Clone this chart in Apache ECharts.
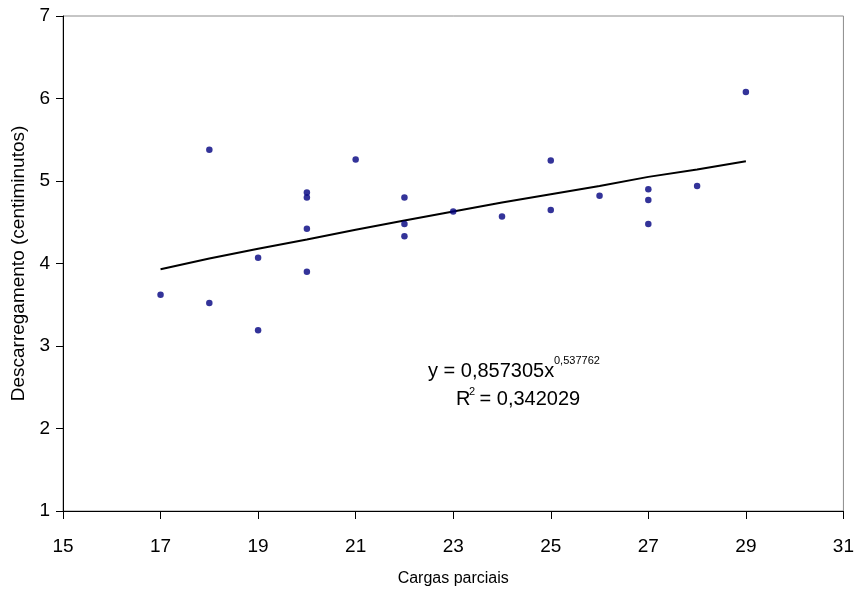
<!DOCTYPE html>
<html>
<head>
<meta charset="utf-8">
<script src="https://cdn.jsdelivr.net/npm/echarts@6/dist/echarts.min.js"></script>
<style>
html,body{margin:0;padding:0;background:#fff;}
#chart{width:857px;height:594px;}
</style>
</head>
<body>
<div id="chart"></div>
<script>
// Observed points
const cargas = [17, 18, 18, 19, 19, 20, 20, 20, 20, 21, 22, 22, 22, 23, 24, 25, 25, 26, 27, 27, 27, 28, 29];
const descarregamento = [3.62, 5.38, 3.52, 4.07, 3.19, 4.86, 4.80, 4.42, 3.90, 5.26, 4.80, 4.48, 4.33, 4.63, 4.57, 5.25, 4.65, 4.82, 4.90, 4.77, 4.48, 4.94, 6.08];
// Trend line
const trendX = [17, 18, 19, 20, 21, 22, 23, 24, 25, 26, 27, 28, 29];
const trendY = [3.93, 4.06, 4.18, 4.29, 4.41, 4.52, 4.63, 4.74, 4.84, 4.94, 5.05, 5.14, 5.24];
// Axis ticks
const xTicks = [15, 17, 19, 21, 23, 25, 27, 29, 31];
const yTicks = [1, 2, 3, 4, 5, 6, 7];
const xTitle = 'Cargas parciais';
const yTitle = 'Descarregamento (centiminutos)';
const eqMain = 'y = 0,857305x';
const eqExp = '0,537762';
const r2Label = 'R';
const r2Sup = '2';
const r2Val = ' = 0,342029';

const chart = echarts.init(document.getElementById('chart'));
const font = 'Liberation Sans, Arial, sans-serif';

const scatterData = cargas.map((x, i) => [x, descarregamento[i]]);
const trendData = trendX.map((x, i) => [x, trendY[i]]);

chart.setOption({
  animation: false,
  backgroundColor: '#fff',
  grid: { left: 63, right: 13, top: 16, bottom: 83, show: true, borderColor: '#8c8c8c', borderWidth: 1 },
  xAxis: {
    type: 'value',
    min: xTicks[0], max: xTicks[xTicks.length - 1], interval: 2,
    name: xTitle, nameLocation: 'middle', nameGap: 60,
    nameTextStyle: { fontFamily: font, fontSize: 16, color: '#000' },
    axisLine: { show: true, lineStyle: { color: '#000', width: 1 } },
    axisTick: { show: true, length: 8, lineStyle: { color: '#000' } },
    axisLabel: { fontFamily: font, fontSize: 19, color: '#000', margin: 26 },
    splitLine: { show: false }
  },
  yAxis: {
    type: 'value',
    min: yTicks[0], max: yTicks[yTicks.length - 1], interval: 1,
    name: yTitle, nameLocation: 'middle', nameGap: 33, nameRotate: 90,
    nameTextStyle: { fontFamily: font, fontSize: 19, color: '#000' },
    axisLine: { show: true, lineStyle: { color: '#000', width: 1 } },
    axisTick: { show: true, length: 7, lineStyle: { color: '#000' } },
    axisLabel: { fontFamily: font, fontSize: 19, color: '#000', margin: 13 },
    splitLine: { show: false }
  },
  series: [
    {
      type: 'line',
      data: trendData,
      showSymbol: false,
      symbol: 'none',
      lineStyle: { color: '#000', width: 2 },
      z: 2
    },
    {
      type: 'scatter',
      data: scatterData,
      symbol: 'circle',
      symbolSize: 6.5,
      itemStyle: { color: '#000080' },
      z: 3
    }
  ],
  graphic: [
    { type: 'text', left: 428, top: 361, style: { text: eqMain, font: '20px ' + font, fill: '#000' } },
    { type: 'text', left: 554, top: 355, style: { text: eqExp, font: '11px ' + font, fill: '#000' } },
    { type: 'text', left: 456, top: 389, style: { text: r2Label, font: '20px ' + font, fill: '#000' } },
    { type: 'text', left: 469, top: 386, style: { text: r2Sup, font: '11px ' + font, fill: '#000' } },
    { type: 'text', left: 474, top: 389, style: { text: r2Val, font: '20px ' + font, fill: '#000' } }
  ]
});
</script>
</body>
</html>
